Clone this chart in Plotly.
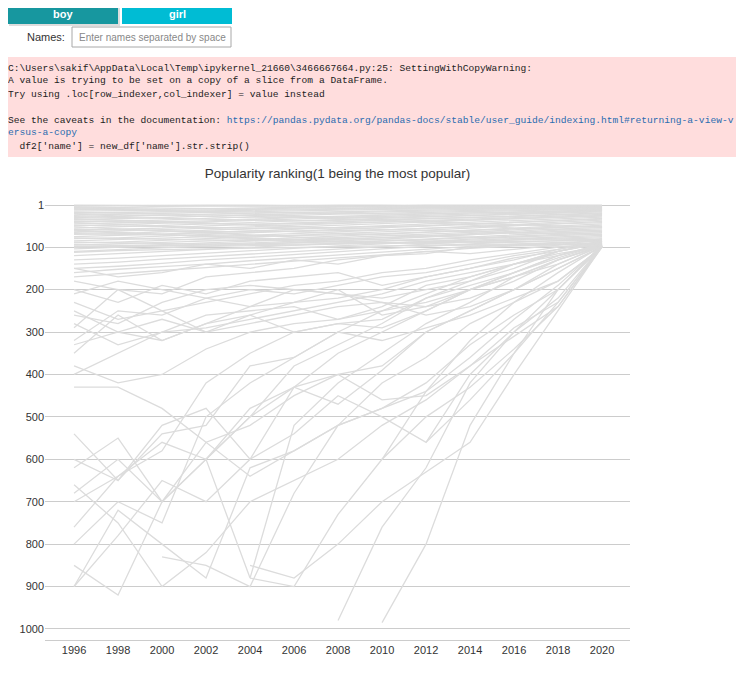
import plotly.graph_objects as go

# popularity rank of the 2020 top names, every second year
years = [1996, 1998, 2000, 2002, 2004, 2006, 2008, 2010, 2012, 2014, 2016, 2018, 2020]
N = None

top_band = [
    [1, 1, 2, 2, 3, 3, 4, 5, 6, 8, 9, 10, 12],
    [3, 2, 1, 1, 1, 2, 2, 3, 3, 4, 5, 6, 8],
    [5, 6, 4, 3, 2, 1, 1, 1, 2, 2, 3, 4, 5],
    [8, 7, 8, 9, 10, 8, 6, 4, 1, 1, 1, 1, 1],
    [12, 10, 11, 9, 7, 6, 5, 6, 4, 3, 2, 2, 2],
    [15, 14, 12, 12, 11, 10, 9, 8, 7, 6, 4, 3, 3],
    [20, 18, 16, 15, 13, 12, 10, 9, 8, 7, 6, 5, 4],
    [25, 22, 20, 18, 16, 14, 12, 11, 10, 9, 8, 7, 6],
    [30, 28, 25, 22, 20, 18, 16, 14, 12, 11, 10, 9, 7],
    [35, 33, 30, 27, 24, 21, 19, 17, 15, 13, 12, 11, 9],
    [40, 38, 36, 32, 28, 25, 22, 20, 18, 16, 14, 13, 10],
    [10, 12, 14, 16, 17, 19, 20, 22, 21, 20, 18, 15, 11],
    [45, 42, 40, 38, 35, 30, 27, 24, 22, 19, 17, 15, 13],
    [50, 47, 44, 41, 38, 34, 30, 27, 25, 22, 20, 17, 14],
    [18, 20, 22, 24, 26, 28, 29, 30, 28, 25, 22, 18, 15],
    [55, 52, 48, 45, 42, 38, 35, 32, 29, 26, 23, 20, 17],
    [60, 58, 55, 50, 46, 43, 40, 36, 33, 30, 27, 23, 19],
    [28, 30, 32, 35, 36, 38, 37, 35, 33, 31, 28, 24, 21],
    [65, 62, 58, 55, 52, 48, 44, 40, 37, 34, 30, 26, 23],
    [70, 68, 64, 60, 56, 52, 49, 45, 41, 37, 33, 29, 25],
    [38, 40, 42, 44, 46, 45, 43, 41, 39, 36, 33, 30, 27],
    [75, 72, 70, 66, 62, 58, 54, 50, 46, 42, 38, 33, 29],
    [80, 78, 74, 70, 67, 63, 59, 55, 51, 47, 42, 37, 32],
    [48, 50, 52, 54, 55, 56, 54, 52, 49, 45, 41, 37, 34],
    [85, 82, 79, 75, 72, 68, 64, 60, 56, 52, 47, 41, 36],
    [90, 88, 84, 80, 77, 73, 69, 65, 60, 55, 50, 44, 39],
    [58, 60, 62, 63, 64, 63, 61, 59, 56, 52, 48, 45, 42],
    [95, 92, 89, 85, 82, 78, 74, 70, 65, 60, 55, 49, 45],
    [99, 97, 94, 90, 86, 82, 78, 74, 70, 65, 59, 53, 48],
    [68, 70, 72, 73, 74, 73, 71, 68, 64, 60, 56, 53, 51],
    [104, 100, 97, 93, 90, 86, 82, 78, 73, 68, 62, 57, 54],
    [110, 106, 102, 98, 94, 90, 86, 81, 76, 71, 66, 60, 57],
    [78, 80, 82, 83, 84, 83, 81, 78, 74, 70, 66, 63, 60],
    [120, 115, 110, 105, 100, 95, 90, 85, 80, 75, 70, 66, 63],
    [88, 90, 92, 93, 92, 90, 88, 85, 82, 78, 74, 70, 66],
    [130, 126, 120, 114, 108, 102, 97, 92, 86, 81, 76, 72, 69],
    [94, 96, 97, 98, 97, 95, 93, 90, 87, 84, 80, 76, 72],
    [140, 135, 128, 122, 116, 110, 104, 98, 92, 87, 82, 78, 75],
    [60, 65, 70, 75, 80, 85, 88, 90, 89, 86, 83, 80, 78],
    [150, 145, 138, 130, 124, 117, 110, 104, 98, 92, 88, 84, 81],
    [100, 98, 96, 95, 94, 93, 92, 91, 90, 89, 87, 85, 84],
    [160, 152, 146, 140, 132, 125, 118, 111, 104, 98, 93, 89, 87],
    [170, 162, 155, 148, 140, 132, 125, 118, 110, 103, 97, 93, 90],
    [112, 108, 106, 104, 102, 100, 99, 97, 96, 95, 94, 93, 92],
    [22, 26, 24, 28, 31, 29, 33, 36, 40, 44, 47, 50, 53],
    [33, 36, 39, 43, 48, 52, 55, 58, 61, 64, 66, 68, 70],
    [42, 46, 50, 56, 60, 64, 68, 71, 74, 77, 79, 81, 83],
    [52, 57, 61, 66, 71, 76, 80, 83, 86, 88, 90, 93, 95],
    [62, 66, 70, 74, 79, 83, 86, 89, 92, 94, 96, 97, 99],
    [7, 9, 13, 17, 22, 27, 32, 38, 43, 48, 55, 58, 62],
]

rising = [
    [900, 780, 650, 700, 600, 430, 350, 300, 250, 200, 160, 120, 95],
    [620, 550, 700, 600, 500, 380, 330, 280, 220, 180, 150, 110, 90],
    [430, 430, 480, 560, 520, 450, 400, 380, 300, 250, 200, 150, 100],
    [850, 920, 700, 600, 880, 520, 420, 350, 280, 230, 170, 130, 98],
    [760, 640, 580, 420, 350, 300, 280, 290, 250, 200, 170, 130, 96],
    [350, 260, 320, 280, 260, 300, 280, 270, 220, 190, 160, 120, 92],
    [320, 250, 260, 220, 240, 200, 210, 220, 200, 180, 140, 110, 88],
    [290, 200, 250, 300, 260, 230, 220, 200, 170, 150, 130, 105, 85],
    [N, N, N, N, 850, 880, 800, 700, 630, 560, 400, 250, 99],
    [N, N, N, N, N, N, 980, 760, 620, 420, 300, 220, 97],
    [N, N, N, N, N, N, N, 985, 800, 520, 350, 200, 94],
    [680, 600, 700, 560, 640, 580, 520, 420, 360, 280, 230, 180, 100],
    [540, 650, 520, 480, 600, 540, 450, 500, 560, 400, 300, 200, 99],
    [660, 750, 900, 820, 700, 650, 600, 520, 460, 380, 290, 230, 97],
    [900, 720, 800, 880, 620, 580, 520, 480, 420, 330, 260, 200, 99],
    [N, N, 830, 850, 900, 680, 520, 480, 440, 360, 270, 190, 96],
    [N, N, N, N, 880, 900, 730, 600, 500, 430, 340, 240, 98],
    [600, 650, 540, 520, 380, 360, 300, 320, 290, 260, 220, 180, 100],
    [250, 300, 320, 280, 240, 230, 200, 260, 240, 200, 170, 140, 97],
    [380, 420, 400, 340, 300, 280, 270, 240, 190, 170, 140, 120, 93],
    [200, 230, 190, 210, 180, 170, 160, 190, 170, 150, 125, 110, 91],
    [150, 170, 160, 140, 150, 130, 140, 120, 110, 115, 105, 95, 80],
    [180, 200, 210, 170, 160, 150, 130, 120, 115, 100, 95, 90, 85],
    [230, 270, 250, 230, 210, 190, 180, 160, 150, 130, 115, 100, 90],
    [280, 330, 300, 290, 270, 250, 230, 210, 180, 160, 140, 115, 99],
    [N, N, N, N, N, N, N, N, 560, 460, 350, 230, 99],
    [700, 640, 560, 600, 500, 430, 400, 460, 450, 380, 310, 240, 100],
    [800, 700, 750, 500, 420, 360, 300, 250, 210, 170, 140, 110, 89],
    [260, 280, 230, 200, 190, 200, 210, 230, 260, 240, 200, 150, 98],
    [330, 300, 270, 300, 280, 260, 240, 230, 240, 220, 180, 130, 95],
    [400, 350, 300, 260, 250, 240, 270, 250, 230, 200, 160, 125, 94],
    [210, 180, 200, 220, 200, 210, 190, 170, 160, 140, 120, 105, 86],
    [N, N, N, N, N, N, N, 600, 440, 320, 230, 160, 97],
    [N, N, N, 600, 480, 430, 470, 390, 300, 250, 200, 140, 96],
]

yticks = [1, 100, 200, 300, 400, 500, 600, 700, 800, 900, 1000]

# pixel -> paper helpers (page has an 8px body margin, plot area 45..630 x 195..640 on screen)
def px(x):
    return (x - 45) / 585

def py(y):
    return (640 - y) / 445

fig = go.Figure()
for s in top_band + rising:
    fig.add_trace(go.Scatter(x=years, y=s, mode="lines",
                             line=dict(color="#dcdcdc", width=1.3),
                             hoverinfo="skip", showlegend=False))

fig.update_layout(
    width=744, height=684,
    margin=dict(l=37, r=122, t=187, b=52),
    paper_bgcolor="white", plot_bgcolor="white",
    font=dict(family="Liberation Sans, Arial", size=11, color="#333"),
    title=dict(text="Popularity ranking(1 being the most popular)", x=0.5, xref="paper",
               y=1 - 165 / 684, yanchor="middle", font=dict(size=13.5, color="#333")),
    xaxis=dict(range=[1994.68, 2021.27], dtick=2, tick0=1996, showgrid=False,
               zeroline=False, showline=True, linecolor="#ccc"),
    yaxis=dict(range=[1026, -23], tickvals=yticks, showgrid=True, gridcolor="#ccc",
               zeroline=False),
)

# widget bar and warning box above the chart
shapes = [
    dict(type="rect", x0=px(9), x1=px(120), y0=py(26), y1=py(5), fillcolor="#bbb",
         line_width=0, opacity=0.5),
    dict(type="rect", x0=px(8), x1=px(118), y0=py(24), y1=py(3), fillcolor="#17979f", line_width=0),
    dict(type="rect", x0=px(122), x1=px(232), y0=py(24), y1=py(3), fillcolor="#00bcd4", line_width=0),
    dict(type="rect", x0=px(72), x1=px(231), y0=py(47), y1=py(27), fillcolor="white",
         line=dict(color="#a8a8a8", width=1)),
    dict(type="rect", x0=px(4), x1=px(741), y0=py(157), y1=py(57), fillcolor="#ffdddd", line_width=0),
]
for s in shapes:
    s.update(xref="paper", yref="paper", layer="below")
fig.update_layout(shapes=shapes)

def note(x, y, text, size=11, color="#333", fam="Liberation Sans, Arial", anchor="left"):
    fig.add_annotation(x=px(x), y=py(y), xref="paper", yref="paper", text=text, showarrow=False,
                       xanchor=anchor, yanchor="middle", font=dict(size=size, color=color, family=fam))

note(63, 14, "<b>boy</b>", color="white", anchor="center")
note(177, 14, "<b>girl</b>", color="white", anchor="center")
note(67, 37, "Names:", anchor="right")
note(77, 37, "Enter names separated by space", size=10, color="#888")

mono = "Liberation Mono, monospace"
link = "<span style='color:#2a6cb0'>%s</span>"
lines = [
    (68, "C:\\Users\\sakif\\AppData\\Local\\Temp\\ipykernel_21660\\3466667664.py:25: SettingWithCopyWarning:"),
    (81, "A value is trying to be set on a copy of a slice from a DataFrame."),
    (94, "Try using .loc[row_indexer,col_indexer] = value instead"),
    (120, "See the caveats in the documentation: " + link % "https://pandas.pydata.org/pandas-docs/stable/user_guide/indexing.html#returning-a-view-v"),
    (133, link % "ersus-a-copy"),
    (146, "  df2['name'] = new_df['name'].str.strip()"),
]
for y, t in lines:
    note(6, y, t, size=9.6, color="#222", fam=mono)

fig.write_html("out.html")
